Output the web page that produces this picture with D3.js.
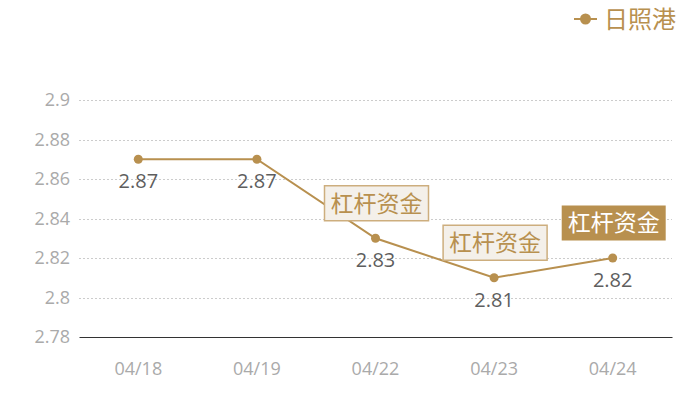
<!DOCTYPE html>
<html><head><meta charset="utf-8">
<script src="https://cdn.jsdelivr.net/npm/d3@7/dist/d3.min.js"></script>
<style>body{margin:0;background:#fff;}svg{display:block;font-family:"Noto Sans CJK SC","Noto Sans",sans-serif;}</style>
</head><body>
<svg id="c" width="700" height="400"></svg>
<script>
const categories = ["04/18","04/19","04/22","04/23","04/24"];
const values = [2.87, 2.87, 2.83, 2.81, 2.82];
const seriesName = "日照港";
const yTicks = [2.78, 2.8, 2.82, 2.84, 2.86, 2.88, 2.9];
const annotations = [
  {cat:"04/22", text:"杠杆资金", filled:false},
  {cat:"04/23", text:"杠杆资金", filled:false},
  {cat:"04/24", text:"杠杆资金", filled:true}
];

(function(){
const gold = "#b8904f";
const svg = d3.select("#c");
const pL = 79, pR = 672, pT = 100, pB = 337;
const x = d3.scaleBand().domain(categories).range([pL, pR]);
const y = d3.scaleLinear().domain([2.78, 2.9]).range([pB, pT]);
const cx = c => x(c) + x.bandwidth()/2;
const FN = '"Open Sans","Noto Sans",sans-serif';

// grid
svg.append("g").selectAll("line").data(yTicks.filter(t => t !== 2.78)).join("line")
  .attr("x1", pL).attr("x2", pR)
  .attr("y1", d => Math.round(y(d))+0.5).attr("y2", d => Math.round(y(d))+0.5)
  .attr("stroke", "#cccccc").attr("stroke-dasharray", "2,2").attr("stroke-width", 1);

// y axis
const ya = svg.append("g").attr("transform", `translate(${pL},0)`)
  .call(d3.axisLeft(y).tickValues(yTicks).tickSize(0).tickPadding(9).tickFormat(d => String(+d.toFixed(2))));
ya.select(".domain").remove();
ya.selectAll("text").attr("fill", "#aaaaaa").attr("font-size", 18).attr("font-family", FN);

// x axis
const xa = svg.append("g").attr("transform", `translate(0,${pB})`)
  .call(d3.axisBottom(x).tickSize(0).tickPadding(25));
xa.select(".domain").attr("stroke", "#333").attr("stroke-width", 1.2);
xa.selectAll("text").attr("fill", "#aaaaaa").attr("font-size", 18).attr("font-family", FN);

// line
const line = d3.line().x((d,i) => cx(categories[i])).y(d => y(d));
svg.append("path").datum(values).attr("d", line)
  .attr("fill", "none").attr("stroke", gold).attr("stroke-width", 2);

svg.append("g").selectAll("circle").data(values).join("circle")
  .attr("cx", (d,i) => cx(categories[i])).attr("cy", d => y(d)).attr("r", 4.5)
  .attr("fill", gold);

// value labels
svg.append("g").selectAll("text").data(values).join("text")
  .attr("x", (d,i) => cx(categories[i])).attr("y", d => y(d) + 29)
  .attr("text-anchor", "middle").attr("font-size", 20).attr("font-family", FN).attr("fill", "#5e5e5e")
  .text(d => d.toFixed(2));

// annotations
const ag = svg.append("g").selectAll("g").data(annotations).join("g")
  .attr("transform", d => `translate(${cx(d.cat)+1},${y(values[categories.indexOf(d.cat)]) - 35})`);
ag.append("rect").attr("x", -52).attr("y", -17.5).attr("width", 104).attr("height", 35)
  .attr("fill", d => d.filled ? gold : "#f4f0ea")
  .attr("stroke", d => d.filled ? "none" : "#cdae7e").attr("stroke-width", 1.5);
ag.append("text").attr("text-anchor", "middle").attr("dy", "0.36em")
  .attr("font-size", 23).attr("fill", d => d.filled ? "#ffffff" : gold)
  .text(d => d.text);

// legend
const lg = svg.append("g").attr("transform", "translate(574,19)");
lg.append("line").attr("x1", 0).attr("x2", 23).attr("stroke", gold).attr("stroke-width", 2);
lg.append("circle").attr("cx", 11.5).attr("r", 5.5).attr("fill", gold);
lg.append("text").attr("x", 30).attr("dy", "0.36em").attr("font-size", 24).attr("fill", gold).text(seriesName);
})();
</script>
</body></html>
